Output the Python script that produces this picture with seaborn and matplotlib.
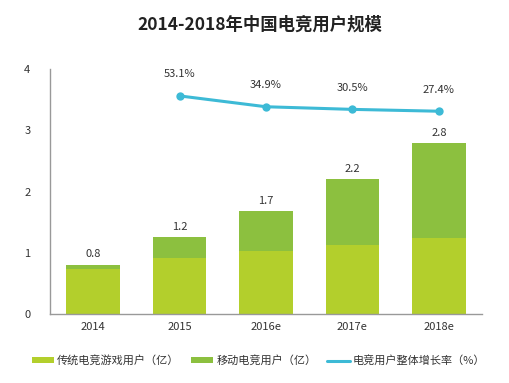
import matplotlib
matplotlib.use("Agg")
import matplotlib.pyplot as plt
from matplotlib.lines import Line2D
import seaborn as sns
import pandas as pd
import numpy as np

years = ["2014", "2015", "2016e", "2017e", "2018e"]
traditional = [0.73, 0.91, 1.03, 1.13, 1.24]
mobile = [0.07, 0.34, 0.65, 1.07, 1.55]
total_labels = ["0.8", "1.2", "1.7", "2.2", "2.8"]
rate_years = ["2015", "2016e", "2017e", "2018e"]
rates = [53.1, 34.9, 30.5, 27.4]
rate_labels = ["53.1%", "34.9%", "30.5%", "27.4%"]

sns.set_style("white")
plt.rcParams['font.family'] = ['Noto Sans CJK SC', 'DejaVu Sans']

c_trad = "#B3CF2C"
c_mob = "#8CC03F"
c_line = "#3DBAD6"
c_text = "#333333"

df = pd.DataFrame({"year": years, "trad": traditional, "mob": mobile})
df["total"] = df["trad"] + df["mob"]

fig = plt.figure(figsize=(5.09, 3.83), dpi=100)
ax = fig.add_axes([0.098, 0.180, 0.849, 0.640])

sns.barplot(data=df, x="year", y="total", color=c_mob, width=0.62, ax=ax,
            saturation=1, label="移动电竞用户（亿）", order=years, linewidth=0)
sns.barplot(data=df, x="year", y="trad", color=c_trad, width=0.62, ax=ax,
            saturation=1, label="传统电竞游戏用户（亿）", order=years, linewidth=0)
if ax.get_legend() is not None:
    ax.get_legend().remove()

for i, (t, lab) in enumerate(zip(df["total"], total_labels)):
    ax.annotate(lab, (i, t), xytext=(0, 4), textcoords="offset points",
                ha="center", va="bottom", fontsize=8, color=c_text)

ax.set_ylim(0, 4)
ax.set_xlim(-0.5, 4.5)
ax.set_yticks([0, 1, 2, 3, 4])
ax.set_ylabel("")
ax.set_xlabel("")
ax.tick_params(axis="both", length=0, labelsize=8, colors=c_text)
ax.tick_params(axis="y", pad=14)
ax.tick_params(axis="x", pad=6)
for s in ["top", "right"]:
    ax.spines[s].set_visible(False)
for s in ["left", "bottom"]:
    ax.spines[s].set_color("#999999")
    ax.spines[s].set_linewidth(1.0)

ax2 = ax.twinx()
xpos = [years.index(y) for y in rate_years]
sns.lineplot(x=xpos, y=rates, ax=ax2, color=c_line, linewidth=2.2, marker="o",
             markersize=6, markeredgewidth=0, legend=False)
ax2.set_ylim(-312.7, 98.3)
ax2.set_yticks([])
ax2.set_ylabel("")
for s in ax2.spines.values():
    s.set_visible(False)
for x, r, lab in zip(xpos, rates, rate_labels):
    ax2.annotate(lab, (x, r), xytext=(0, 12), textcoords="offset points",
                 ha="center", va="bottom", fontsize=8, color=c_text)

h1, l1 = ax.get_legend_handles_labels()
line_handle = Line2D([], [], color=c_line, linewidth=2.2)
handles = [h1[1], h1[0], line_handle]
labels = [l1[1], l1[0], "电竞用户整体增长率（%）"]
fig.legend(handles, labels, loc="center", bbox_to_anchor=(0.508, 0.058), ncol=3,
           frameon=False, fontsize=8, handlelength=2.0, handleheight=0.5,
           columnspacing=1.0, handletextpad=0.3, labelcolor=c_text)

fig.suptitle("2014-2018年中国电竞用户规模", x=0.51, y=0.935, fontsize=12.5,
             fontweight="bold", color="#222222", va="center")

fig.savefig("out.png", dpi=100)
